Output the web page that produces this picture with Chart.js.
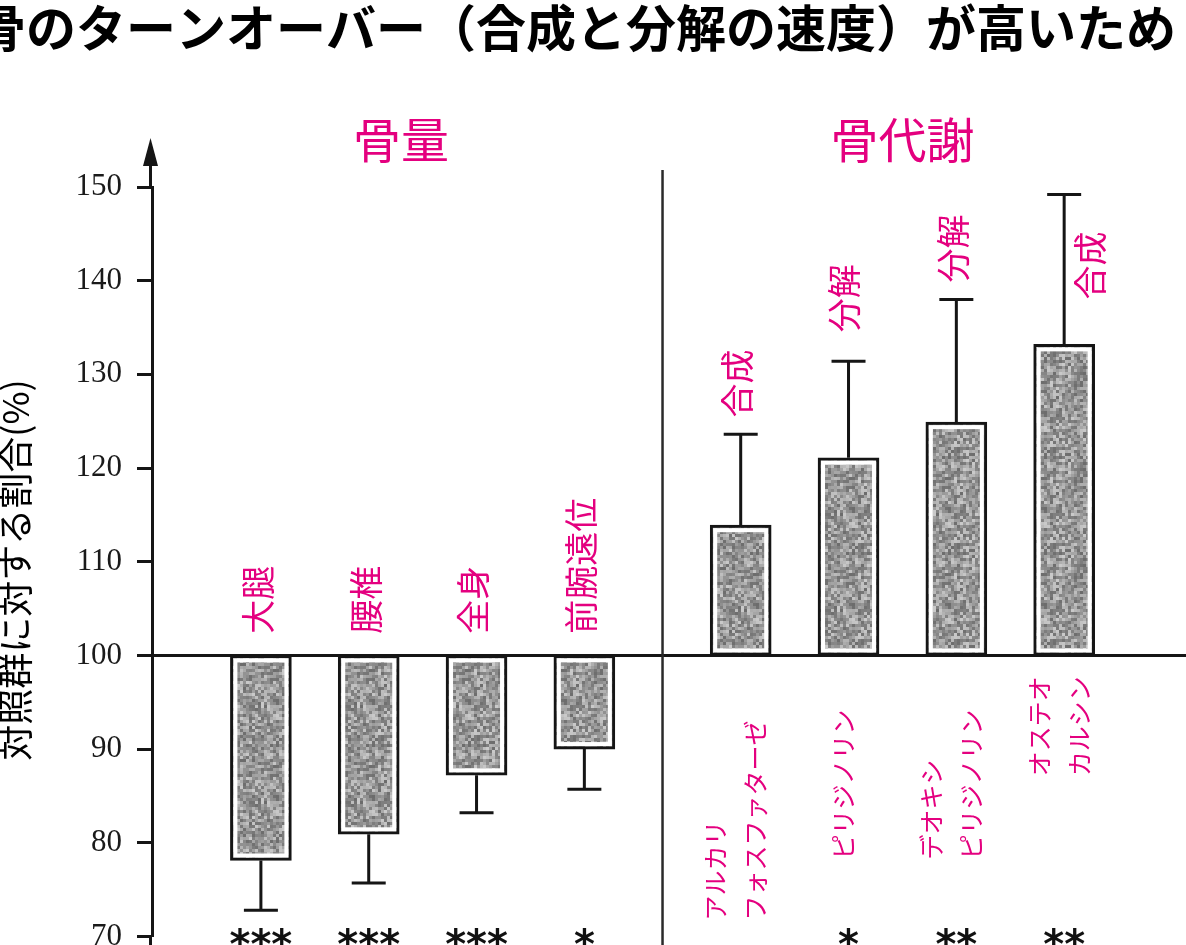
<!DOCTYPE html>
<html><head><meta charset="utf-8">
<script src="https://cdn.jsdelivr.net/npm/chart.js@4/dist/chart.umd.min.js"></script>
<style>html,body{margin:0;padding:0;background:#fff;overflow:hidden;width:1186px;height:945px}canvas{display:block}</style>
</head><body>
<canvas id="c" width="1186" height="970"></canvas>
<script>
// ---- data ----
const boneMassSites = ['大腿', '腰椎', '全身', '前腕遠位'];
const boneMassValues = [78.1, 80.9, 87.2, 90.0];
const boneMassErrorEnds = [72.8, 75.7, 83.2, 85.7];
const boneMassStars = ['***', '***', '***', '*'];

const markerNames = [['アルカリ', 'フォスファターゼ'], ['ピリジノリン'], ['デオキシ', 'ピリジノリン'], ['オステオ', 'カルシン']];
const markerKinds = ['合成', '分解', '分解', '合成'];
const markerValues = [113.9, 121.1, 124.9, 133.2];
const markerErrorEnds = [123.6, 131.4, 138.0, 149.2];
const markerStars = ['', '*', '**', '**'];

const groupTitles = ['骨量', '骨代謝'];
const yTickValues = [70, 80, 90, 100, 110, 120, 130, 140, 150];
const baselineValue = 100;
const chartTitle = '骨のターンオーバー（合成と分解の速度）が高いため';
const yAxisTitle = '対照群に対する割合(%)';

// ---- layout / style ----
const MAGENTA = '#E4007F';
const INK = '#151515';
const GROUP_GAP = 1.45;                 // slots between the two groups
const siteLabelStart = 102.3;           // y value where site labels start
const kindLabelStart = [125.4, 134.5, 139.8, 138.0];
const kindLabelDx = [-4, -4, -3, 26];
const nameLabelStart = [71.7, 78.2, 78.2, 87.1];
const groupTitleShift = [-0.2, 0.0];

const leftPos = boneMassValues.map((_, j) => j);
const rightPos = markerValues.map((_, j) => boneMassValues.length - 1 + GROUP_GAP + j);
const allPos = leftPos.concat(rightPos);
const allValues = boneMassValues.concat(markerValues);
const allErr = boneMassErrorEnds.concat(markerErrorEnds);
const allStars = boneMassStars.concat(markerStars);

function makePattern(ctx) {
  const c = document.createElement('canvas'); c.width = c.height = 96;
  const g = c.getContext('2d');
  for (let y = 0; y < 96; y += 3) for (let x = 0; x < 96; x += 3) {
    let h = Math.imul(x + 7, 73856093) ^ Math.imul(y + 13, 19349663);
    h = Math.imul(h ^ (h >>> 13), 1274126177);
    h = (h ^ (h >>> 16)) >>> 0;
    const v = 108 + (h % 95);
    g.fillStyle = `rgb(${v},${v},${v})`; g.fillRect(x, y, 3, 3);
  }
  return ctx.createPattern(c, 'repeat');
}

const canvas = document.getElementById('c');
const ctx0 = canvas.getContext('2d');
const pattern = makePattern(ctx0);

const decor = {
  id: 'decor',
  beforeDraw(chart) {
    const c = chart.ctx; c.save(); c.fillStyle = '#fff'; c.fillRect(0, 0, chart.width, chart.height); c.restore();
  },
  afterDraw(chart) {
    const c = chart.ctx, xs = chart.scales.x, ys = chart.scales.y, area = chart.chartArea;
    const meta = chart.getDatasetMeta(0);
    c.save();
    // inner white margin of bars
    meta.data.forEach(el => {
      const top = Math.min(el.y, el.base), bot = Math.max(el.y, el.base);
      c.strokeStyle = '#fff'; c.lineWidth = 4;
      c.strokeRect(el.x - el.width / 2 + 5, top + 5, el.width - 10, bot - top - 10);
    });
    // error bars (from bar end outward)
    c.strokeStyle = INK; c.lineWidth = 3;
    meta.data.forEach((el, i) => {
      const yv = ys.getPixelForValue(allValues[i]);
      const ye = ys.getPixelForValue(allErr[i]);
      c.beginPath(); c.moveTo(el.x, yv); c.lineTo(el.x, ye);
      c.moveTo(el.x - 17, ye); c.lineTo(el.x + 17, ye); c.stroke();
    });
    // baseline at 100
    const yb = ys.getPixelForValue(baselineValue);
    c.beginPath(); c.moveTo(area.left, yb); c.lineTo(chart.width, yb); c.stroke();
    // divider between groups
    const xd = (xs.getPixelForValue(leftPos[leftPos.length - 1]) + xs.getPixelForValue(rightPos[0])) / 2;
    c.strokeStyle = '#2a2a2a'; c.lineWidth = 2.5;
    c.beginPath(); c.moveTo(xd, 170); c.lineTo(xd, chart.height); c.stroke();
    // y axis extension + arrow
    c.strokeStyle = INK; c.lineWidth = 3;
    c.beginPath(); c.moveTo(area.left - 1.5, area.top); c.lineTo(area.left - 1.5, area.top - 25);
    c.moveTo(area.left - 1.5, area.bottom); c.lineTo(area.left - 1.5, chart.height); c.stroke();
    c.fillStyle = INK;
    c.beginPath(); c.moveTo(area.left - 1.5, area.top - 49); c.lineTo(area.left - 9, area.top - 21);
    c.lineTo(area.left + 6, area.top - 21); c.closePath(); c.fill();

    // title
    c.fillStyle = '#000'; c.font = 'bold 50px "Noto Sans CJK JP"';
    c.textAlign = 'right'; c.textBaseline = 'middle';
    c.fillText(chartTitle, 1176, 28);

    // y axis title
    c.save(); c.translate(15, 570); c.rotate(-Math.PI / 2);
    c.font = '36px "Noto Sans CJK JP"'; c.textAlign = 'center'; c.textBaseline = 'middle';
    c.fillStyle = '#000'; c.fillText(yAxisTitle, 0, 0); c.restore();

    // group titles
    c.fillStyle = MAGENTA; c.font = '48px "Noto Sans CJK JP"'; c.textAlign = 'center'; c.textBaseline = 'middle';
    const gc = [(leftPos[0] + leftPos[leftPos.length - 1]) / 2, (rightPos[0] + rightPos[rightPos.length - 1]) / 2];
    groupTitles.forEach((t, k) => c.fillText(t, xs.getPixelForValue(gc[k] + groupTitleShift[k]), 140));

    function vtext(txt, x, yStart, font) {
      c.save(); c.translate(x, yStart); c.rotate(-Math.PI / 2);
      c.font = font; c.textAlign = 'left'; c.textBaseline = 'middle'; c.fillStyle = MAGENTA;
      c.fillText(txt, 0, 0); c.restore();
    }
    // site labels (bone mass)
    boneMassSites.forEach((s, j) => vtext(s, xs.getPixelForValue(leftPos[j]) - 3, ys.getPixelForValue(siteLabelStart), '34px "Noto Sans CJK JP"'));
    // kind labels (synthesis / resorption)
    markerKinds.forEach((s, j) => vtext(s, xs.getPixelForValue(rightPos[j]) + kindLabelDx[j], ys.getPixelForValue(kindLabelStart[j]), '34px "Noto Sans CJK JP"'));
    // marker names below baseline
    markerNames.forEach((lines, j) => {
      const cx = xs.getPixelForValue(rightPos[j]) - 5;
      const n = lines.length;
      lines.forEach((ln, k) => vtext(ln, cx + (k - (n - 1) / 2) * 40, ys.getPixelForValue(nameLabelStart[j]), '25px "Noto Sans CJK JP"'));
    });
    // significance stars
    c.fillStyle = '#111'; c.font = 'bold 40px "DejaVu Sans"'; c.textAlign = 'center'; c.textBaseline = 'alphabetic';
    allStars.forEach((s, i) => { if (s) c.fillText(s, xs.getPixelForValue(allPos[i]), 958); });
    c.restore();
  }
};

new Chart(canvas, {
  type: 'bar',
  data: {
    datasets: [{
      data: allPos.map((p, i) => ({ x: p, y: [baselineValue, allValues[i]] })),
      backgroundColor: pattern,
      borderColor: INK,
      borderWidth: 3,
      borderSkipped: false,
      barThickness: 61
    }]
  },
  options: {
    responsive: false,
    animation: false,
    devicePixelRatio: 1,
    layout: { padding: { top: 187, bottom: 31, left: 0, right: 0 } },
    plugins: { legend: { display: false }, tooltip: { enabled: false }, title: { display: false } },
    scales: {
      x: { type: 'linear', min: -1.01, max: 8.58, offset: false, bounds: 'data', display: false, grid: { offset: false } },
      y: {
        min: 70, max: 150,
        afterBuildTicks: s => { s.ticks = yTickValues.map(v => ({ value: v })); },
        afterFit: s => { s.width = 152; },
        border: { display: true, color: INK, width: 3 },
        grid: { drawOnChartArea: false, drawTicks: true, tickLength: 15, tickWidth: 3, tickColor: INK, color: INK },
        ticks: { padding: 15, color: '#1a1a1a', font: { family: '"Liberation Serif"', size: 31 } }
      }
    }
  },
  plugins: [decor]
});
</script>
</body></html>
